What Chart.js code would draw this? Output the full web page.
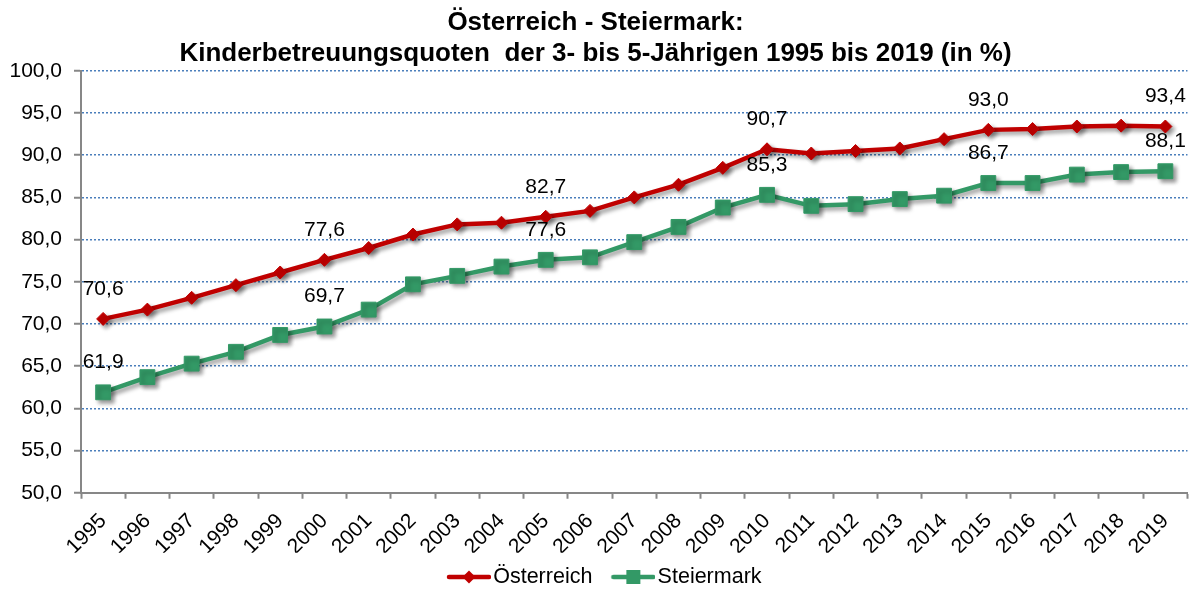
<!DOCTYPE html>
<html>
<head>
<meta charset="utf-8">
<script src="https://cdn.jsdelivr.net/npm/chart.js@4"></script>
<style>
html,body{margin:0;padding:0;background:#fff;overflow:hidden}
#wrap{width:1199px;height:590px}
</style>
</head>
<body>
<div id="wrap"><canvas id="c" width="1199" height="590"></canvas></div>
<script>
// ---- data ----
const years = ['1995','1996','1997','1998','1999','2000','2001','2002','2003','2004','2005','2006','2007','2008','2009','2010','2011','2012','2013','2014','2015','2016','2017','2018','2019'];
const oesterreich = [70.6, 71.7, 73.1, 74.6, 76.1, 77.6, 79.0, 80.6, 81.8, 82.0, 82.7, 83.4, 85.0, 86.5, 88.5, 90.7, 90.2, 90.5, 90.8, 91.9, 93.0, 93.1, 93.4, 93.5, 93.4];
const steiermark  = [61.9, 63.7, 65.3, 66.7, 68.7, 69.7, 71.7, 74.7, 75.7, 76.8, 77.6, 77.9, 79.7, 81.5, 83.8, 85.3, 84.0, 84.2, 84.8, 85.2, 86.7, 86.7, 87.7, 88.0, 88.1];
const labelledYears = ['1995','2000','2005','2010','2015','2019'];
const seriesNames = ['Österreich', 'Steiermark'];
const titleLines = ['Österreich - Steiermark:', 'Kinderbetreuungsquoten  der 3- bis 5-Jährigen 1995 bis 2019 (in %)'];
const yMin = 50, yMax = 100, yStep = 5;

// ---- style ----
const FONT = "'Liberation Sans', Arial, sans-serif";
const RED = '#C00000';
const GREEN = '#339966';
const AXIS = '#878787';
const GRID = '#4a7ebb';

const fmt = v => v.toFixed(1).replace('.', ',');

// legend symbol: line with marker, drawn in the right 44px of a 58px canvas
function legendIcon(color, shape) {
  const c = document.createElement('canvas');
  c.width = 58; c.height = 16;
  const x = c.getContext('2d');
  const o = 14;
  x.strokeStyle = color; x.lineWidth = 4.5; x.lineCap = 'round';
  x.beginPath(); x.moveTo(o + 2, 8); x.lineTo(o + 42, 8); x.stroke();
  x.fillStyle = color;
  if (shape === 'diamond') {
    x.beginPath(); x.moveTo(o + 22, 1.5); x.lineTo(o + 28.5, 8); x.lineTo(o + 22, 14.5); x.lineTo(o + 15.5, 8); x.closePath(); x.fill();
  } else {
    x.fillRect(o + 15, 1, 14, 14);
  }
  return c;
}

const shadowPlugin = {
  id: 'shadow',
  beforeDatasetDraw(chart) {
    const c = chart.ctx; c.save();
    c.shadowColor = 'rgba(0,0,0,0.4)';
    c.shadowBlur = 4; c.shadowOffsetX = 3; c.shadowOffsetY = 3;
  },
  afterDatasetDraw(chart) { chart.ctx.restore(); }
};

const legendShift = {
  id: 'legendShift',
  afterLayout(chart) { if (chart.legend) chart.legend.left += 12; }
};

const valueLabels = {
  id: 'valueLabels',
  afterDatasetsDraw(chart) {
    const c = chart.ctx;
    c.save();
    c.font = '21px ' + FONT;
    c.fillStyle = '#000';
    c.textAlign = 'center';
    c.textBaseline = 'middle';
    chart.data.datasets.forEach((ds, di) => {
      const meta = chart.getDatasetMeta(di);
      chart.data.labels.forEach((lab, i) => {
        if (!labelledYears.includes(lab)) return;
        const p = meta.data[i];
        c.fillText(fmt(ds.data[i]), p.x, p.y - 30);
      });
    });
    c.restore();
  }
};

new Chart(document.getElementById('c'), {
  type: 'line',
  data: {
    labels: years,
    datasets: [
      {
        label: seriesNames[0], data: oesterreich,
        borderColor: RED, backgroundColor: RED, borderWidth: 4.5,
        pointStyle: 'rectRot', pointRadius: 6.5, pointBorderWidth: 1,
        pointBackgroundColor: RED, pointBorderColor: RED, tension: 0
      },
      {
        label: seriesNames[1], data: steiermark,
        borderColor: GREEN, backgroundColor: GREEN, borderWidth: 4.5,
        pointStyle: 'rect', pointRadius: 10.5, pointBorderWidth: 1,
        pointBackgroundColor: GREEN, pointBorderColor: GREEN, tension: 0
      }
    ]
  },
  options: {
    responsive: false,
    animation: false,
    devicePixelRatio: 1,
    layout: { padding: { left: 0, right: 8, top: 0, bottom: -7.75 } },
    plugins: {
      title: {
        display: true, text: titleLines, color: '#000',
        font: { family: FONT, size: 26, weight: 'bold', lineHeight: 1.2 },
        padding: { top: 7.4, bottom: 1 }
      },
      legend: {
        display: true, position: 'bottom',
        labels: {
          color: '#000', font: { family: FONT, size: 21.5 },
          usePointStyle: true, pointStyleWidth: 41, padding: 13.5,
          generateLabels(chart) {
            return chart.data.datasets.map((ds, i) => ({
              text: ds.label, fontColor: '#000',
              pointStyle: legendIcon(ds.borderColor, i === 0 ? 'diamond' : 'square'),
              datasetIndex: i, hidden: false, lineWidth: 0
            }));
          }
        }
      },
      tooltip: { enabled: false }
    },
    scales: {
      x: {
        offset: true,
        afterFit(s) { s.height = 60; },
        grid: { display: true, drawOnChartArea: false, offset: true, tickLength: 6, color: AXIS, tickWidth: 2 },
        border: { display: true, color: AXIS, width: 2 },
        ticks: { color: '#000', font: { family: FONT, size: 21 }, minRotation: 45, maxRotation: 45, autoSkip: false, padding: 10 }
      },
      y: {
        min: yMin, max: yMax,
        afterFit(s) { s.width = 81; },
        grid: { color: GRID, lineWidth: 1.5, tickLength: 7, tickColor: AXIS, tickWidth: 2 },
        border: { display: true, color: AXIS, width: 2, dash: [2, 2] },
        ticks: { stepSize: yStep, color: '#000', font: { family: FONT, size: 21 }, padding: 12, callback: v => fmt(v) }
      }
    }
  },
  plugins: [shadowPlugin, legendShift, valueLabels]
});
</script>
</body>
</html>
